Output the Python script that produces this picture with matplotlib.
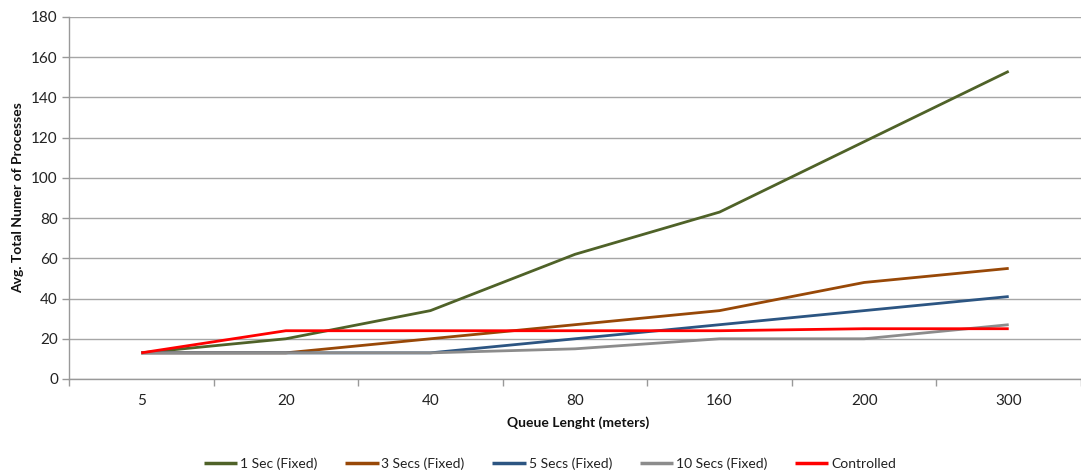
import matplotlib
matplotlib.use("Agg")
import matplotlib.pyplot as plt

categories = ["5", "20", "40", "80", "160", "200", "300"]
sec1 = [13, 20, 34, 62, 83, 118, 153]
sec3 = [13, 13, 20, 27, 34, 48, 55]
sec5 = [13, 13, 13, 20, 27, 34, 41]
sec10 = [13, 13, 13, 15, 20, 20, 27]
controlled = [13, 24, 24, 24, 24, 25, 25]

series = [
    ("1 Sec (Fixed)", sec1, "#4F6228"),
    ("3 Secs (Fixed)", sec3, "#984807"),
    ("5 Secs (Fixed)", sec5, "#2C5582"),
    ("10 Secs (Fixed)", sec10, "#8C8C8C"),
    ("Controlled", controlled, "#FF0000"),
]

plt.rcParams['font.family'] = ['Lato', 'DejaVu Sans']

W, H = 1081, 476
fig = plt.figure(figsize=(W / 100, H / 100), dpi=100)
left, right, top, bottom = 69, 1081, 17, 379
ax = fig.add_axes([left / W, 1 - bottom / H, (right - left) / W, (bottom - top) / H])

x = list(range(len(categories)))
for name, vals, col in series:
    ax.plot(x, vals, color=col, lw=2.0, label=name, solid_capstyle='butt', zorder=3)

ax.set_ylim(0, 180)
ax.set_yticks(range(0, 181, 20))
ax.set_xlim(-0.5, 6.454)
ax.set_xticks(x)
ax.set_xticklabels(categories)
ax.set_xticks([i + 0.5 for i in range(-1, 7)], minor=True)
ax.tick_params(axis='x', which='major', length=0, pad=11, labelsize=11, colors='#222222')
ax.tick_params(axis='x', which='minor', length=5, color='#999999', width=1)
ax.tick_params(axis='y', length=5, color='#999999', width=1, labelsize=11, colors='#222222', pad=3)
ax.tick_params(axis='y', labelcolor='#222222')
ax.tick_params(axis='x', labelcolor='#222222')
ax.grid(axis='y', color='#A6A6A6', lw=1, zorder=0)
ax.set_axisbelow(True)
for s in ['top', 'right']:
    ax.spines[s].set_visible(False)
for s in ['left', 'bottom']:
    ax.spines[s].set_color('#999999')
    ax.spines[s].set_linewidth(1)

fig.text(578 / W, 1 - 423 / H, "Queue Lenght (meters)", ha='center', va='center',
         fontsize=10, fontweight='bold', color='#111111')
fig.text(18 / W, 1 - 198 / H, "Avg. Total Numer of Processes", ha='center', va='center',
         rotation=90, fontsize=10, fontweight='bold', color='#111111')

leg = fig.legend(loc='center', bbox_to_anchor=(550 / W, 1 - 464 / H), ncol=5, frameon=False,
                 fontsize=10, handlelength=2.4, handletextpad=0.2, columnspacing=2.0)
for t in leg.get_texts():
    t.set_color('#222222')
for l in leg.get_lines():
    l.set_linewidth(2.5)

fig.savefig("out.png", dpi=100)
